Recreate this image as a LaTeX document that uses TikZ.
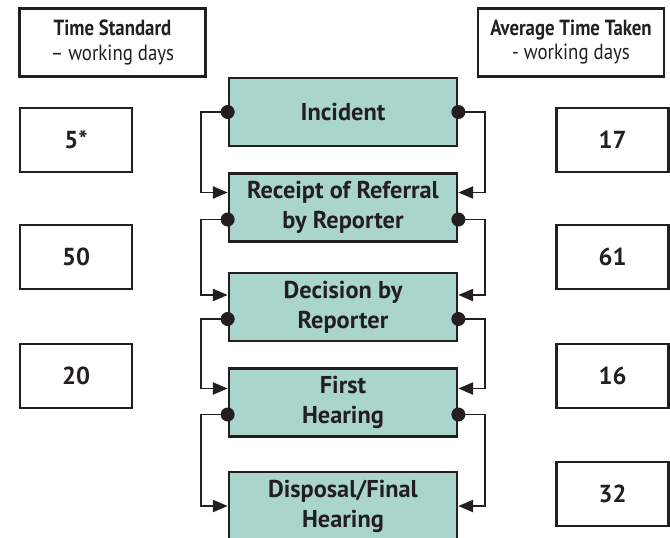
\documentclass[tikz,border=0pt]{standalone}
\usepackage{fontspec}
\setmainfont{PT Sans}
\newfontfamily\condfont[FakeStretch=0.86]{PT Sans}
\usetikzlibrary{arrows.meta,calc}
\definecolor{stagefill}{HTML}{A9D5CB}
\definecolor{ink}{HTML}{231F20}

\begin{document}
\begin{tikzpicture}[x=0.3mm, y=-0.3mm,
  every node/.style={draw=ink, line width=2.3pt, shape=rectangle, text=ink, align=center},
  head/.style={minimum width=55.8mm, minimum height=20.4mm, font=\condfont\fontsize{18.7}{20.5}\selectfont},
  days/.style={minimum width=33.6mm, minimum height=19.2mm, font=\bfseries\fontsize{21}{24}\selectfont},
  stage/.style={fill=stagefill, minimum width=68.4mm, minimum height=20.4mm, font=\bfseries\fontsize{20.8}{25.6}\selectfont},
  link/.style={draw=ink, line width=1.6pt, -{Triangle[length=4.4mm, width=3.6mm]}}]
\clip (0,0) rectangle (670,537);

\node (std) at (112.5,42.5) [head] {{\bfseries Time Standard}\\– working days};
\node (avg) at (571,42.5) [head] {{\bfseries Average Time Taken}\\- working days};

\node (inc) at (343,112) [stage] {Incident};
\node (rec) at (343,207.5) [stage] {Receipt of Referral\\by Reporter};
\node (dec) at (343,307) [stage] {Decision by\\Reporter};
\node (fst) at (343,402.5) [stage] {First\\Hearing};
\node (dsp) at (343,506) [stage] {Disposal/Final\\Hearing};

\node (std1) at (76,140) [days] {5*};
\node (std2) at (76,257) [days] {50};
\node (std3) at (76,376) [days] {20};

\node (avg1) at (612.5,140) [days] {17};
\node (avg2) at (612.5,257) [days] {61};
\node (avg3) at (612.5,376) [days] {16};
\node (avg4) at (612.5,494) [days] {32};

\foreach \from/\to/\out/\in in {inc/rec/0/-15, rec/dec/12/-12, dec/fst/12/-14, fst/dsp/12/0} {
  \draw[link] ($(\from.west)+(0,\out)$) -- ++(-27,0) |- ($(\to.west)+(0,\in)$);
  \draw[link] ($(\from.east)+(0,\out)$) -- ++(27,0) |- ($(\to.east)+(0,\in)$);
  \fill[ink] ($(\from.west)+(0,\out)$) circle (2.1mm);
  \fill[ink] ($(\from.east)+(0,\out)$) circle (2.1mm);
}
\end{tikzpicture}
\end{document}
